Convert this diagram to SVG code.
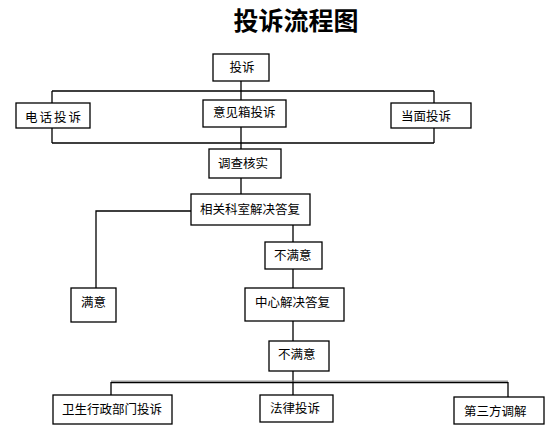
<svg xmlns="http://www.w3.org/2000/svg" width="557" height="438" viewBox="0 0 557 438">
<style>
.box{fill:#fff;stroke:#000;stroke-width:1.3}
.t{font-family:"Noto Sans CJK SC","Noto Sans",sans-serif;font-size:12.5px;fill:#000}
.title{font-family:"Noto Sans CJK SC","Noto Sans",sans-serif;font-size:25px;font-weight:bold;fill:#000}
.ln{stroke:#000;stroke-width:1.3;fill:none}
</style>
<rect width="557" height="438" fill="#fff"/>
<text class="title" x="296" y="30" text-anchor="middle">投诉流程图</text>
<g id="connectors">
<path class="ln" d="M241,81 V100 M52,91 H434 M52,91 V103 M434,91 V103"/>
<path class="ln" d="M52,128 V143 M434,128 V143 M52,143 H434 M241,127 V149"/>
<path class="ln" d="M241,178 V194 M191,211 H96 V288 M293,225 V242 M293,269 V288 M293,321 V341 M293,371 V395"/>
<path d="M111,381 H508" stroke="#999" stroke-width="1" fill="none"/>
<path class="ln" d="M111,382.5 H508 M111,382 V395 M508,382 V397"/>
</g>
<g id="n1"><rect class="box" x="213" y="54" width="56" height="27"/><text class="t" x="242" y="72" text-anchor="middle">投诉</text></g>
<g id="n2"><rect class="box" x="16" y="103" width="74" height="25"/><text class="t" x="25" y="122" letter-spacing="2">电话投诉</text></g>
<g id="n3"><rect class="box" x="203" y="100" width="83" height="27"/><text class="t" x="213" y="117">意见箱投诉</text></g>
<g id="n4"><rect class="box" x="391" y="103" width="80" height="25"/><text class="t" x="401" y="121">当面投诉</text></g>
<g id="n5"><rect class="box" x="209" y="149" width="72" height="29"/><text class="t" x="218" y="168">调查核实</text></g>
<g id="n6"><rect class="box" x="191" y="194" width="119" height="31"/><text class="t" x="200" y="214">相关科室解决答复</text></g>
<g id="n7"><rect class="box" x="71" y="288" width="45" height="34"/><text class="t" x="81" y="307">满意</text></g>
<g id="n8"><rect class="box" x="265" y="242" width="57" height="27"/><text class="t" x="274" y="260">不满意</text></g>
<g id="n9"><rect class="box" x="245" y="288" width="99" height="33"/><text class="t" x="255" y="307">中心解决答复</text></g>
<g id="n10"><rect class="box" x="269" y="341" width="60" height="30"/><text class="t" x="278" y="359">不满意</text></g>
<g id="n11"><rect class="box" x="53" y="395" width="119" height="29"/><text class="t" x="62" y="414">卫生行政部门投诉</text></g>
<g id="n12"><rect class="box" x="260" y="395" width="73" height="27"/><text class="t" x="270" y="413">法律投诉</text></g>
<g id="n13"><rect class="box" x="454" y="397" width="90" height="27"/><text class="t" x="464" y="416">第三方调解</text></g>
</svg>
